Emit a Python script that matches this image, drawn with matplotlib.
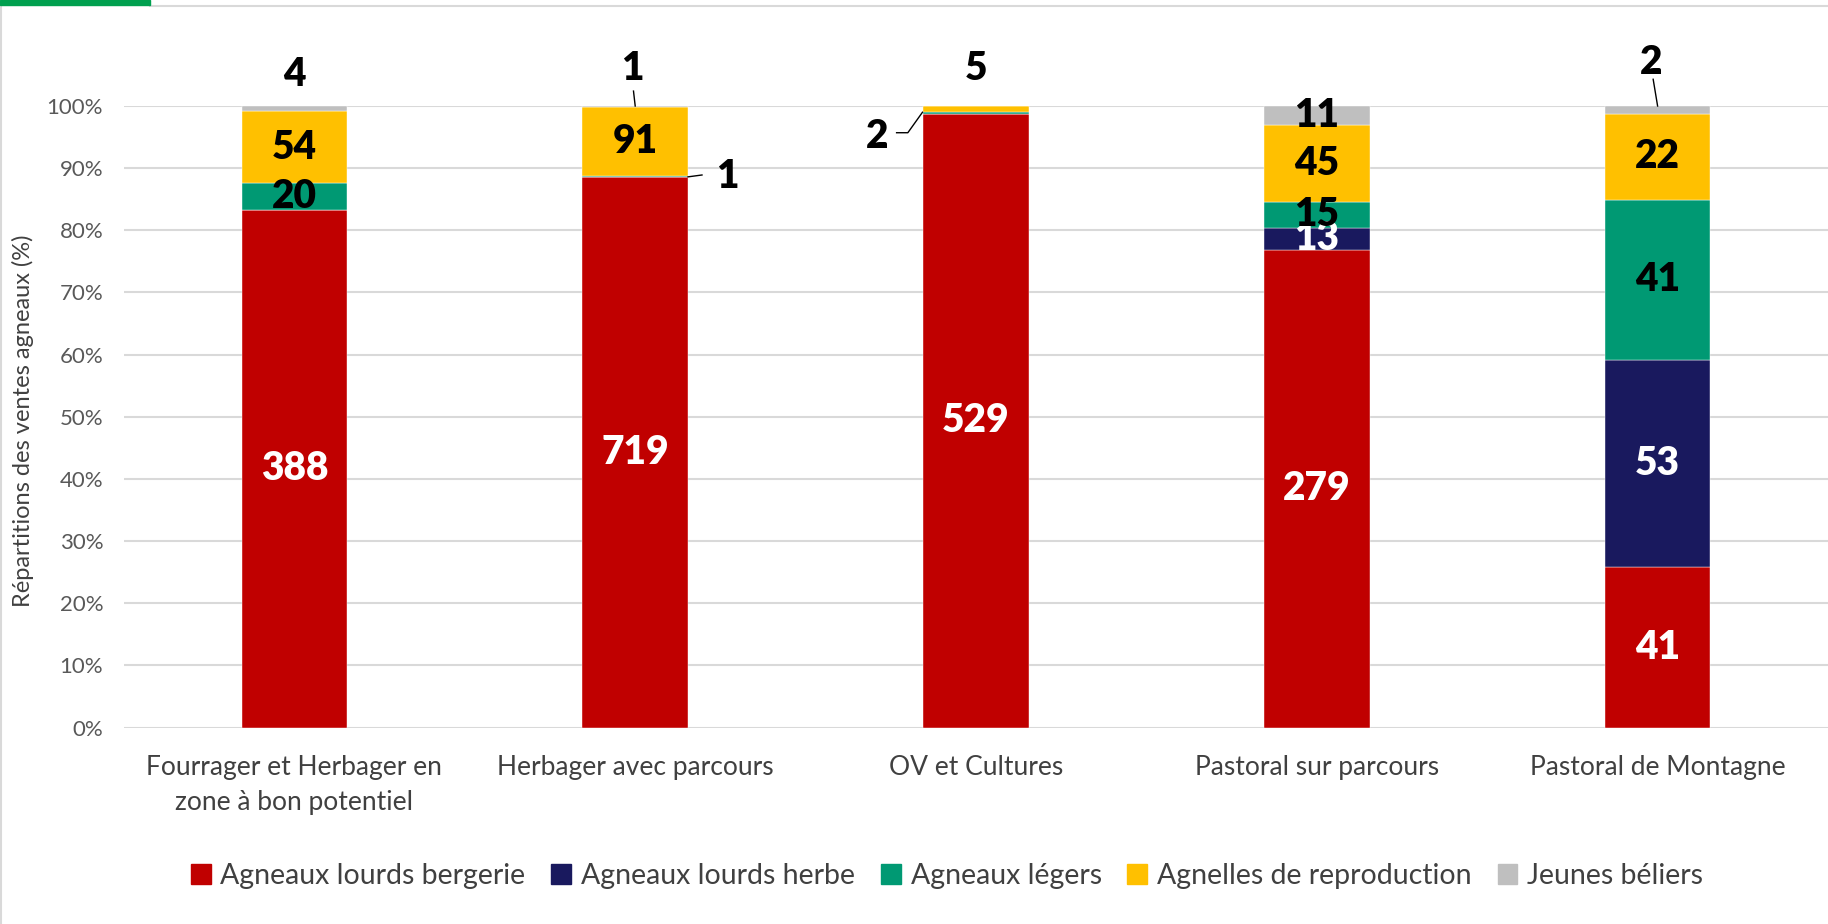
import numpy as np
import matplotlib
matplotlib.use("Agg")
import matplotlib.pyplot as plt
from matplotlib.patches import Rectangle
from matplotlib.lines import Line2D

plt.rcParams['font.family'] = ['Lato', 'DejaVu Sans']

categories = ["Fourrager et Herbager en\nzone à bon potentiel", "Herbager avec parcours",
              "OV et Cultures", "Pastoral sur parcours", "Pastoral de Montagne"]
series_names = ["Agneaux lourds bergerie", "Agneaux lourds herbe", "Agneaux légers",
                "Agnelles de reproduction", "Jeunes béliers"]
lourds_bergerie = [388, 719, 529, 279, 41]
lourds_herbe = [0, 0, 0, 13, 53]
legers = [20, 1, 2, 15, 41]
agnelles = [54, 91, 5, 45, 22]
beliers = [4, 1, 0, 11, 2]
yticks = [0, 10, 20, 30, 40, 50, 60, 70, 80, 90, 100]

colors = ["#C00000", "#19195E", "#009973", "#FFC000", "#BFBFBF"]
label_colors = ["white", "white", "black", "black", "black"]

counts = np.array([lourds_bergerie, lourds_herbe, legers, agnelles, beliers], dtype=float)
pct = counts / counts.sum(axis=0) * 100

W, H = 1828, 924
fig = plt.figure(figsize=(W / 100, H / 100), dpi=100)
ax = fig.add_axes([124 / W, 1 - 727.5 / H, (1828 - 124) / W, (727.5 - 106) / H])

x = np.arange(len(categories))
bw = 0.31
bottom = np.zeros(len(categories))
for i in range(len(series_names)):
    ax.bar(x, pct[i], bw, bottom=bottom, color=colors[i], label=series_names[i], zorder=3,
           edgecolor='white', linewidth=0.3)
    bottom += pct[i]

# special label placements (offset x, y position, leader polyline)
special = {
    (0, 4): ((0.0, 105.0), None),
    (1, 2): ((0.27, 88.6), [(0.155, 88.6), (0.196, 88.9)]),
    (1, 4): ((-0.007, 106.1), [(-0.005, 102.4), (0.0, 100.0)]),
    (2, 2): ((-0.29, 95.1), [(-0.233, 95.7), (-0.200, 95.7), (-0.157, 99.0)]),
    (2, 3): ((0.0, 106.0), None),
    (4, 4): ((-0.02, 107.0), [(-0.013, 104.3), (0.0, 100.0)]),
}

LBL = 28
cum = np.cumsum(pct, axis=0)
for j in range(len(categories)):
    for i in range(len(series_names)):
        v = counts[i, j]
        if v <= 0:
            continue
        if (j, i) in special:
            (dx, yy), line = special[(j, i)]
            ax.text(x[j] + dx, yy, f"{int(v)}", ha='center', va='center', fontsize=LBL,
                    fontweight='heavy', color='black', clip_on=False, zorder=5)
            if line:
                lx = [x[j] + p[0] for p in line]
                ly = [p[1] for p in line]
                ax.plot(lx, ly, color='black', lw=1.0, clip_on=False, zorder=5)
        else:
            yc = cum[i, j] - pct[i, j] / 2
            ax.text(x[j], yc, f"{int(v)}", ha='center', va='center', fontsize=LBL,
                    fontweight='heavy', color=label_colors[i], zorder=5)

ax.set_xlim(-0.5, len(categories) - 0.5)
ax.set_ylim(0, 100)
ax.set_yticks(yticks)
ax.set_yticklabels([f"{t}%" for t in yticks])
ax.yaxis.grid(True, color='#D9D9D9', lw=1.5, zorder=0)
ax.set_axisbelow(True)
for s in ax.spines.values():
    s.set_visible(False)
ax.tick_params(axis='y', length=0, pad=15, labelsize=16, labelcolor='#595959')
ax.set_xticks(x)
ax.set_xticklabels(categories, fontsize=19, color='#404040', linespacing=1.5)
ax.tick_params(axis='x', length=0, pad=20)

fig.text(23 / W, 1 - 421 / H, "Répartitions des ventes agneaux (%)", rotation=90,
         ha='center', va='center', fontsize=17, color='#404040')

handles = [Rectangle((0, 0), 1, 1, color=c) for c in colors]
leg = fig.legend(handles, series_names, loc='center', bbox_to_anchor=(947 / W, 1 - 876 / H),
                 ncol=5, frameon=False, fontsize=20.5, handlelength=0.7, handleheight=0.7,
                 handletextpad=0.35, columnspacing=0.9, labelcolor='#404040')

# frame decorations
fig.add_artist(Rectangle((0, 1 - 5 / H), 150 / W, 5 / H, transform=fig.transFigure,
                         color='#00A04F', zorder=10))
fig.add_artist(Line2D([150 / W, 1], [1 - 5.5 / H, 1 - 5.5 / H], transform=fig.transFigure,
                      color='#D9D9D9', lw=1.5))
fig.add_artist(Line2D([1 / W, 1 / W], [0, 1 - 5 / H], transform=fig.transFigure,
                      color='#D9D9D9', lw=1.5))

fig.savefig("out.png", dpi=100, facecolor='white')
